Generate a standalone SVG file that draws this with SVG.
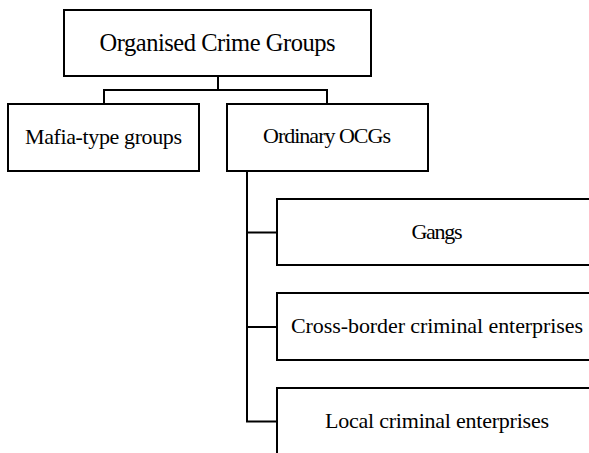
<svg xmlns="http://www.w3.org/2000/svg" width="589" height="453" viewBox="0 0 589 453">
<style>
.box{fill:#fff;stroke:#000;stroke-width:2}
.lbl{font-family:"Liberation Serif","Times New Roman",serif;fill:#000;text-anchor:middle;font-size:22px}
.title{font-size:24.5px}
.conn{fill:none;stroke:#000;stroke-width:2}
</style>
<rect width="589" height="453" fill="#fff"/>
<g id="connectors">
<path class="conn" d="M218,76 V90 M103.5,90 H327 M104,89 V104 M327,89 V104"/>
<path class="conn" d="M247,171 V422 M246,232.5 H277 M246,327 H277 M246,421.5 H277"/>
</g>
<g id="node-ocg">
<rect class="box" x="64" y="10" width="307" height="66"/>
<text class="lbl title" x="217.5" y="51" textLength="236">Organised Crime Groups</text>
</g>
<g id="node-mafia">
<rect class="box" x="8" y="104" width="191" height="67"/>
<text class="lbl" x="103.5" y="144" textLength="157">Mafia-type groups</text>
</g>
<g id="node-ordinary">
<rect class="box" x="227" y="104" width="201" height="67"/>
<text class="lbl" x="327" y="143" textLength="128">Ordinary OCGs</text>
</g>
<g id="node-gangs">
<rect class="box" x="277" y="199" width="330" height="66"/>
<text class="lbl" x="437" y="239" textLength="51">Gangs</text>
</g>
<g id="node-crossborder">
<rect class="box" x="277" y="293" width="330" height="67"/>
<text class="lbl" x="437" y="333" textLength="292">Cross-border criminal enterprises</text>
</g>
<g id="node-local">
<rect class="box" x="277" y="388" width="330" height="100"/>
<text class="lbl" x="437" y="428" textLength="224">Local criminal enterprises</text>
</g>
</svg>
